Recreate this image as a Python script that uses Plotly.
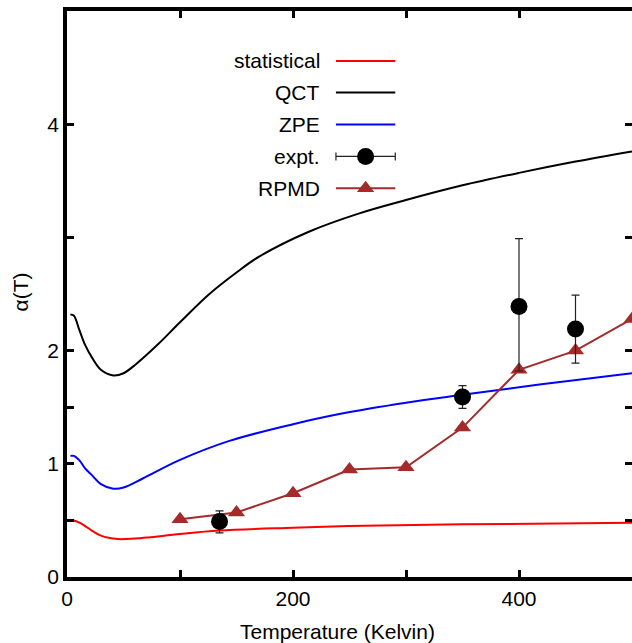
import plotly.graph_objects as go

# ---------------- data ----------------
stat_T = [3, 6, 11, 16, 22, 30, 45, 60, 72, 100, 135, 200, 249, 350, 500]
stat_a = [0.50, 0.50, 0.48, 0.45, 0.41, 0.365, 0.335, 0.34, 0.35, 0.38, 0.41, 0.435, 0.45, 0.465, 0.48]

qct_T = [3, 6, 11, 16, 22, 30, 41, 50, 61, 81, 100, 126, 150, 170, 214, 258, 300, 350, 400, 450, 500]
qct_a = [2.32, 2.31, 2.18, 2.05, 1.94, 1.83, 1.78, 1.80, 1.88, 2.06, 2.25, 2.50, 2.69, 2.83, 3.05, 3.21, 3.33, 3.46, 3.57, 3.67, 3.76]

zpe_T = [3, 6, 11, 16, 22, 30, 41, 50, 67, 99, 143, 200, 241, 300, 350, 418, 500]
zpe_a = [1.07, 1.07, 1.03, 0.96, 0.90, 0.82, 0.78, 0.79, 0.87, 1.03, 1.20, 1.35, 1.44, 1.54, 1.61, 1.70, 1.80]

expt_T = [135, 350, 400, 450]
expt_a = [0.49, 1.59, 2.39, 2.19]
expt_up = [0.095, 0.10, 0.60, 0.30]
expt_dn = [0.10, 0.10, 0.57, 0.30]

rpmd_T = [100, 150, 200, 250, 300, 350, 400, 450, 500]
rpmd_a = [0.51, 0.57, 0.74, 0.95, 0.97, 1.32, 1.83, 2.00, 2.28]

y_tickvals = [0, 0.5, 1, 1.5, 2, 3, 4]
y_ticktext = ["0", "", "1", "", "2", "", "4"]
x_tickvals = [0, 100, 200, 300, 400, 500]
x_ticktext = ["0", "", "200", "", "400", ""]

legend_names = ["statistical", "QCT", "ZPE", "expt.", "RPMD"]

RED = "#ff0000"
BLUE = "#0000ff"
BROWN = "#a52a2a"
FONT = "Liberation Sans, Arial, Helvetica, sans-serif"
FS = 21

fig = go.Figure()

fig.add_trace(go.Scatter(x=stat_T, y=stat_a, mode="lines", line=dict(color=RED, width=2, shape="spline", smoothing=1.0), showlegend=False))
fig.add_trace(go.Scatter(x=qct_T, y=qct_a, mode="lines", line=dict(color="black", width=2, shape="spline", smoothing=1.0), showlegend=False))
fig.add_trace(go.Scatter(x=zpe_T, y=zpe_a, mode="lines", line=dict(color=BLUE, width=2, shape="spline", smoothing=1.0), showlegend=False))
fig.add_trace(go.Scatter(x=rpmd_T, y=rpmd_a, mode="lines+markers", line=dict(color=BROWN, width=2),
                         marker=dict(symbol="triangle-up", size=15, color=BROWN), showlegend=False, cliponaxis=True))
fig.add_trace(go.Scatter(x=expt_T, y=expt_a, mode="markers",
                         marker=dict(symbol="circle", size=17, color="black"),
                         error_y=dict(type="data", symmetric=False, array=expt_up, arrayminus=expt_dn,
                                      color="#222222", thickness=1.2, width=4),
                         showlegend=False))

# empty trace to realise the right-hand tick axis
fig.add_trace(go.Scatter(x=[], y=[], yaxis="y2", showlegend=False))

# ---------------- legend keys (own overlay axes, 0..1) ----------------
row_y = [0.9117, 0.856, 0.7995, 0.743, 0.687]
kx0, kx1, kxc = 0.476, 0.581, 0.5285
for col, yy in zip([RED, "black", BLUE], row_y[:3]):
    fig.add_trace(go.Scatter(x=[kx0, kx1], y=[yy, yy], mode="lines", line=dict(color=col, width=2),
                             xaxis="x2", yaxis="y3", showlegend=False, hoverinfo="skip"))
fig.add_trace(go.Scatter(x=[kxc], y=[row_y[3]], mode="markers", marker=dict(symbol="circle", size=17, color="black"),
                         error_x=dict(type="data", array=[kx1 - kxc], color="#222222", thickness=1.2, width=4),
                         xaxis="x2", yaxis="y3", showlegend=False, hoverinfo="skip"))
fig.add_trace(go.Scatter(x=[kx0, kxc, kx1], y=[row_y[4]] * 3, mode="lines", line=dict(color=BROWN, width=2),
                         xaxis="x2", yaxis="y3", showlegend=False, hoverinfo="skip"))
fig.add_trace(go.Scatter(x=[kxc], y=[row_y[4]], mode="markers", marker=dict(symbol="triangle-up", size=15, color=BROWN),
                         xaxis="x2", yaxis="y3", showlegend=False, hoverinfo="skip"))

annotations = []
for name, yy in zip(legend_names, row_y):
    annotations.append(dict(x=0.451, y=yy, xref="paper", yref="paper", text=name, showarrow=False,
                            xanchor="right", yanchor="middle", font=dict(family=FONT, size=FS, color="black")))
annotations.append(dict(x=0.479, y=-0.097, xref="paper", yref="paper", text="Temperature (Kelvin)", showarrow=False,
                        xanchor="center", yanchor="middle", font=dict(family=FONT, size=FS, color="black")))
annotations.append(dict(x=-0.083, y=0.503, xref="paper", yref="paper", text="α(T)", showarrow=False, textangle=-90,
                        xanchor="center", yanchor="middle", font=dict(family=FONT, size=FS, color="black")))

axis_common = dict(showgrid=False, zeroline=False, ticks="inside", ticklen=7, tickwidth=2.5, tickcolor="black",
                   tickfont=dict(family=FONT, size=FS, color="black"))

fig.update_layout(
    width=632, height=643,
    margin=dict(l=67, r=0, t=11, b=66),
    paper_bgcolor="white", plot_bgcolor="white",
    xaxis=dict(range=[0, 500], tickvals=x_tickvals, ticktext=x_ticktext, showline=True, linewidth=3.5,
               linecolor="black", mirror="ticks", **axis_common),
    yaxis=dict(range=[0, 5], tickvals=y_tickvals, ticktext=y_ticktext, showline=True, linewidth=3.5,
               linecolor="black", mirror=False, **axis_common),
    yaxis2=dict(range=[0, 5], tickvals=y_tickvals, overlaying="y", side="right", anchor="x", showline=False,
                showticklabels=False, **axis_common),
    xaxis2=dict(range=[0, 1], overlaying="x", visible=False, anchor="y3"),
    yaxis3=dict(range=[0, 1], overlaying="y", visible=False, anchor="x2"),
    annotations=annotations,
    showlegend=False,
)

fig.write_html("out.html", config={"displayModeBar": False},
               post_script="document.body.style.margin='0';document.body.style.overflow='hidden';")
